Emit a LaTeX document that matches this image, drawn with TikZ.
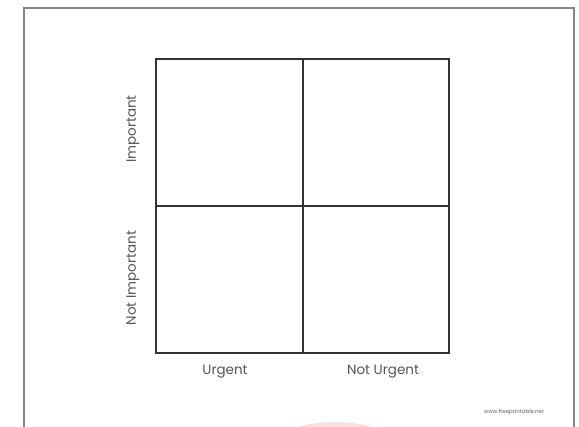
\documentclass[tikz,border=0pt]{standalone}
\usepackage{fontspec}
\setmainfont{Poppins}
\usepackage{xcolor}
\usetikzlibrary{positioning}
\definecolor{gridgray}{RGB}{50,50,50}
\definecolor{framegray}{RGB}{135,135,135}
\definecolor{labelgray}{RGB}{85,85,85}
\definecolor{markpink}{RGB}{252,222,222}

\begin{document}
\begin{tikzpicture}[
    x=1pt, y=-1pt,
    every node/.style={font=\fontsize{13.5}{15}\selectfont, text=labelgray},
    quad/.style={rectangle, draw=gridgray, line width=2pt, minimum width=146.5pt, minimum height=147pt, inner sep=0pt},
    axis/.style={inner sep=1pt},
    frame/.style={draw=framegray, line width=1.3pt}
]
\useasboundingbox (0,0) rectangle (579,427);
\clip (0,0) rectangle (579,427);
\fill[white] (0,0) rectangle (579,427);

% watermark at the bottom edge
\fill[markpink] (335,569) circle (147);

% page frame
\draw[frame] (24,8) rectangle (574,440);

% the four quadrants
\node[quad] (tl) at (229.25,132.5) {};
\node[quad] (tr) at (375.75,132.5) {};
\node[quad] (bl) at (229.25,279.5) {};
\node[quad] (br) at (375.75,279.5) {};

% axis labels
\node[axis, rotate=90] (imp) at (133,129) {Important};
\node[axis, rotate=90] (notimp) at (133,278) {Not Important};
\node[axis] (urg) at (225,372) {Urgent};
\node[axis] (noturg) at (383,372) {Not Urgent};

\node[font=\fontsize{5.5}{6}\selectfont, text=black!60] (site) at (514,412) {www.freeprintable.net};

\end{tikzpicture}
\end{document}
